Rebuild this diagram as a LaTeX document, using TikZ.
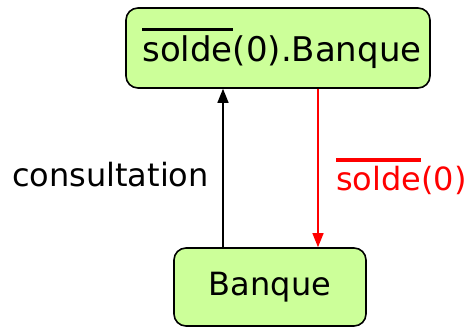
\documentclass[tikz,border=0pt]{standalone}
\usepackage{fontspec}
\setmainfont{DejaVu Sans}
\usetikzlibrary{arrows.meta}
\definecolor{boxgreen}{HTML}{CCFF99}
\newcommand{\ovbar}[2][3pt]{\leavevmode\vbox{\hrule height #1\kern 5pt\hbox{#2}}}
\tikzset{
  statebox/.style={draw=black, line width=1.6pt, fill=boxgreen, rounded corners=12pt, inner sep=0pt},
  conn/.style={line width=1.3pt, -{Triangle[width=11pt,length=14pt]}},
  lbl/.style={font=\fontsize{32}{38}\selectfont, inner sep=0pt}
}
\begin{document}
\begin{tikzpicture}[x=1pt,y=-1pt]
\useasboundingbox (0,0) rectangle (475,328);
\node[statebox, minimum width=304pt, minimum height=80pt, font=\fontsize{34}{40}\selectfont] (top) at (278,48) {\kern8pt\ovbar{solde}(0).Banque};
\node[statebox, minimum width=192pt, minimum height=78pt, font=\fontsize{32}{38}\selectfont] (bot) at (270,287) {Banque};
\coordinate (bx) at (223,0);
\coordinate (rx) at (318,0);
\draw[conn, black] (bot.north -| bx) -- (top.south -| bx);
\draw[conn, red] (top.south -| rx) -- (bot.north -| rx);
\node[lbl, anchor=base east] (cons) at (209,187) {consultation};
\node[lbl, anchor=base west, text=red] (sol) at (336,191) {\ovbar[4pt]{solde}(0)};
\end{tikzpicture}
\end{document}
